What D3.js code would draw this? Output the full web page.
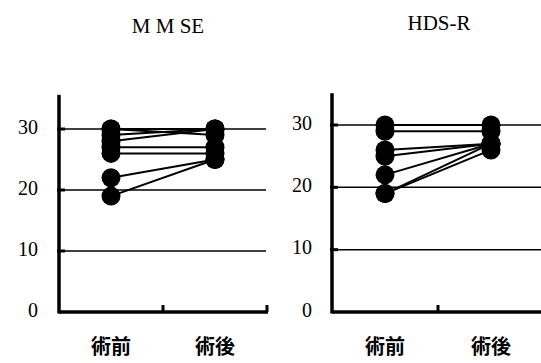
<!DOCTYPE html>
<html>
<head>
<meta charset="utf-8">
<script src="https://cdn.jsdelivr.net/npm/d3@7"></script>
<style>
  body { margin: 0; background: #fff; }
  svg { display: block; }
  .serif { font-family: 'Liberation Serif', 'DejaVu Serif', serif; }
</style>
</head>
<body>
<div id="chart"></div>
<script>
// categories (pre / post operation)
var categories = ["術前", "術後"];
var yTicks = [0, 10, 20, 30];

// MMSE: pre -> post per patient
var mmsePre  = [30, 30, 29, 28, 27, 26, 22, 19];
var mmsePost = [30, 29, 30, 30, 27, 26, 25, 25];

// HDS-R: pre -> post per patient
var hdsPre  = [30, 29, 26, 25, 22, 19, 19];
var hdsPost = [30, 29, 27, 27, 27, 27, 26];

var svg = d3.select("#chart")
  .append("svg")
    .attr("width", 541)
    .attr("height", 363);

function panel(title, pre, post, box)
{
  var g = svg.append("g");

  var x = d3.scaleBand()
    .domain(categories)
    .range([box.left, box.right]);

  var y = d3.scaleLinear()
    .domain([0, 30])
    .range([box.zero, box.thirty]);

  // gridlines at 10, 20, 30
  g.append("g")
    .selectAll("line")
    .data(yTicks.filter(function (d) { return d > 0; }))
    .enter()
    .append("line")
      .attr("x1", box.left)
      .attr("x2", box.gridEnd)
      .attr("y1", function (d) { return y(d); })
      .attr("y2", function (d) { return y(d); })
      .attr("stroke", "#000")
      .attr("stroke-width", 1.5);

  // small inner ticks on the y axis
  g.append("g")
    .selectAll("line")
    .data(yTicks.filter(function (d) { return d > 0; }))
    .enter()
    .append("line")
      .attr("x1", box.left - 2)
      .attr("x2", box.left + 6)
      .attr("y1", function (d) { return y(d); })
      .attr("y2", function (d) { return y(d); })
      .attr("stroke", "#000")
      .attr("stroke-width", 3);

  // y tick labels
  var yAxis = g.append("g")
    .attr("transform", "translate(" + box.left + ",0)")
    .call(d3.axisLeft(y).tickValues(yTicks).tickSize(0).tickPadding(box.pad));
  yAxis.select(".domain").remove();
  yAxis.attr("font-family", null).attr("font-size", null);
  yAxis.selectAll("text")
    .attr("class", "serif")
    .attr("dy", "0.2em")
    .style("font-size", "20px")
    .attr("fill", "#000");

  // y axis line
  g.append("line")
    .attr("x1", box.left).attr("x2", box.left)
    .attr("y1", y(box.top)).attr("y2", y(0) + 1.5)
    .attr("stroke", "#000")
    .attr("stroke-width", 3.5);

  // x axis line
  g.append("line")
    .attr("x1", box.left).attr("x2", box.axisEnd)
    .attr("y1", y(0)).attr("y2", y(0))
    .attr("stroke", "#000")
    .attr("stroke-width", 3.5);

  // upward ticks at band boundaries
  g.append("g")
    .selectAll("line")
    .data(categories)
    .enter()
    .append("line")
      .attr("x1", function (d) { return x(d) + x.bandwidth(); })
      .attr("x2", function (d) { return x(d) + x.bandwidth(); })
      .attr("y1", y(0))
      .attr("y2", y(0) - 7)
      .attr("stroke", "#000")
      .attr("stroke-width", 3);

  // x labels
  g.append("g")
    .selectAll("text")
    .data(categories)
    .enter()
    .append("text")
      .attr("x", function (d) { return x(d) + x.bandwidth() / 2; })
      .attr("y", 354)
      .attr("text-anchor", "middle")
      .attr("font-family", "'Noto Sans CJK JP', sans-serif")
      .attr("font-weight", "bold")
      .attr("font-size", 20)
      .text(function (d) { return d; });

  // title
  g.append("text")
    .attr("class", "serif")
    .attr("x", box.titleX)
    .attr("y", box.titleY)
    .attr("text-anchor", "middle")
    .style("font-size", "21px")
    .text(title);

  var xa = x(categories[0]) + x.bandwidth() / 2;
  var xb = x(categories[1]) + x.bandwidth() / 2;

  // connecting lines
  g.append("g")
    .selectAll("line")
    .data(pre)
    .enter()
    .append("line")
      .attr("x1", xa)
      .attr("x2", xb)
      .attr("y1", function (d) { return y(d); })
      .attr("y2", function (d, i) { return y(post[i]); })
      .attr("stroke", "#000")
      .attr("stroke-width", 2);

  // dots
  g.append("g")
    .selectAll("circle")
    .data(pre.concat(post))
    .enter()
    .append("circle")
      .attr("cx", function (d, i) { return i < pre.length ? xa : xb; })
      .attr("cy", function (d) { return y(d); })
      .attr("r", 9.5)
      .attr("fill", "#000");
}

panel("M M SE", mmsePre, mmsePost,
  {left: 59, right: 267, axisEnd: 268, gridEnd: 266, zero: 312, thirty: 129, top: 35.6, pad: 21, titleX: 168, titleY: 33});
panel("HDS-R", hdsPre, hdsPost,
  {left: 332, right: 544, axisEnd: 541, gridEnd: 541, zero: 312, thirty: 125, top: 35.1, pad: 20, titleX: 439, titleY: 30});
</script>
</body>
</html>
